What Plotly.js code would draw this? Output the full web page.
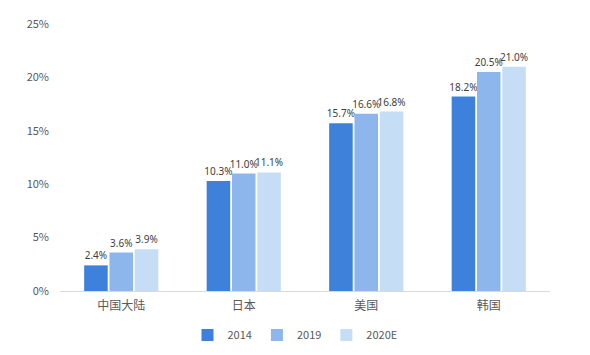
<!DOCTYPE html>
<html>
<head>
<meta charset="utf-8">
<script src="https://cdn.plot.ly/plotly-3.0.1.min.js"></script>
<style>html,body{margin:0;padding:0;background:#fff;}#chart{width:590px;height:355px;}</style>
</head>
<body>
<div id="chart"></div>
<script>
const categories = ["中国大陆", "日本", "美国", "韩国"];
const seriesNames = ["2014", "2019", "2020E"];
const values2014 = [2.4, 10.3, 15.7, 18.2];
const values2019 = [3.6, 11.0, 16.6, 20.5];
const values2020E = [3.9, 11.1, 16.8, 21.0];
const yTickVals = [0, 5, 10, 15, 20, 25];
const yTickText = ["0%", "5%", "10%", "15%", "20%", "25%"];

const colors = ["#3d81db", "#8db7ec", "#c6ddf6"];
const font = "'Noto Sans CJK SC', 'Noto Sans', sans-serif";
const labelFont = "'Noto Sans', 'Noto Sans CJK SC', sans-serif";
const allValues = [values2014, values2019, values2020E];

const traces = allValues.map((vals, i) => ({
  type: "bar",
  name: seriesNames[i],
  x: categories,
  y: vals,
  marker: {color: colors[i]},
  text: vals.map(v => v.toFixed(1) + "%"),
  textposition: "outside",
  constraintext: "none",
  cliponaxis: false,
  textfont: {family: labelFont, size: 10, color: "#404040"},
  hoverinfo: "none"
}));

const layout = {
  width: 590,
  height: 355,
  margin: {l: 60, r: 40, t: 24, b: 64, autoexpand: false},
  paper_bgcolor: "#ffffff",
  plot_bgcolor: "#ffffff",
  barmode: "group",
  bargap: 0.38,
  bargroupgap: 0.07,
  font: {family: font, size: 11, color: "#595959"},
  xaxis: {
    type: "category",
    showgrid: false,
    showline: true,
    linecolor: "#d9d9d9",
    linewidth: 1,
    ticks: "",
    ticklabelstandoff: 4,
    tickfont: {family: font, size: 12, color: "#595959"},
    zeroline: false
  },
  yaxis: {
    range: [0, 25],
    tickvals: yTickVals,
    ticktext: yTickText,
    showgrid: false,
    zeroline: false,
    showline: false,
    ticks: "",
    ticklabelstandoff: 10,
    tickfont: {family: font, size: 11, color: "#595959"}
  },
  showlegend: true,
  legend: {
    orientation: "h",
    x: 0.5,
    xref: "container",
    xanchor: "center",
    y: 20 / 355,
    yref: "container",
    yanchor: "middle",
    font: {family: font, size: 11, color: "#595959"},
    itemwidth: 30,
    tracegroupgap: 0
  }
};

Plotly.newPlot("chart", traces, layout, {displayModeBar: false, staticPlot: true});
</script>
</body>
</html>
